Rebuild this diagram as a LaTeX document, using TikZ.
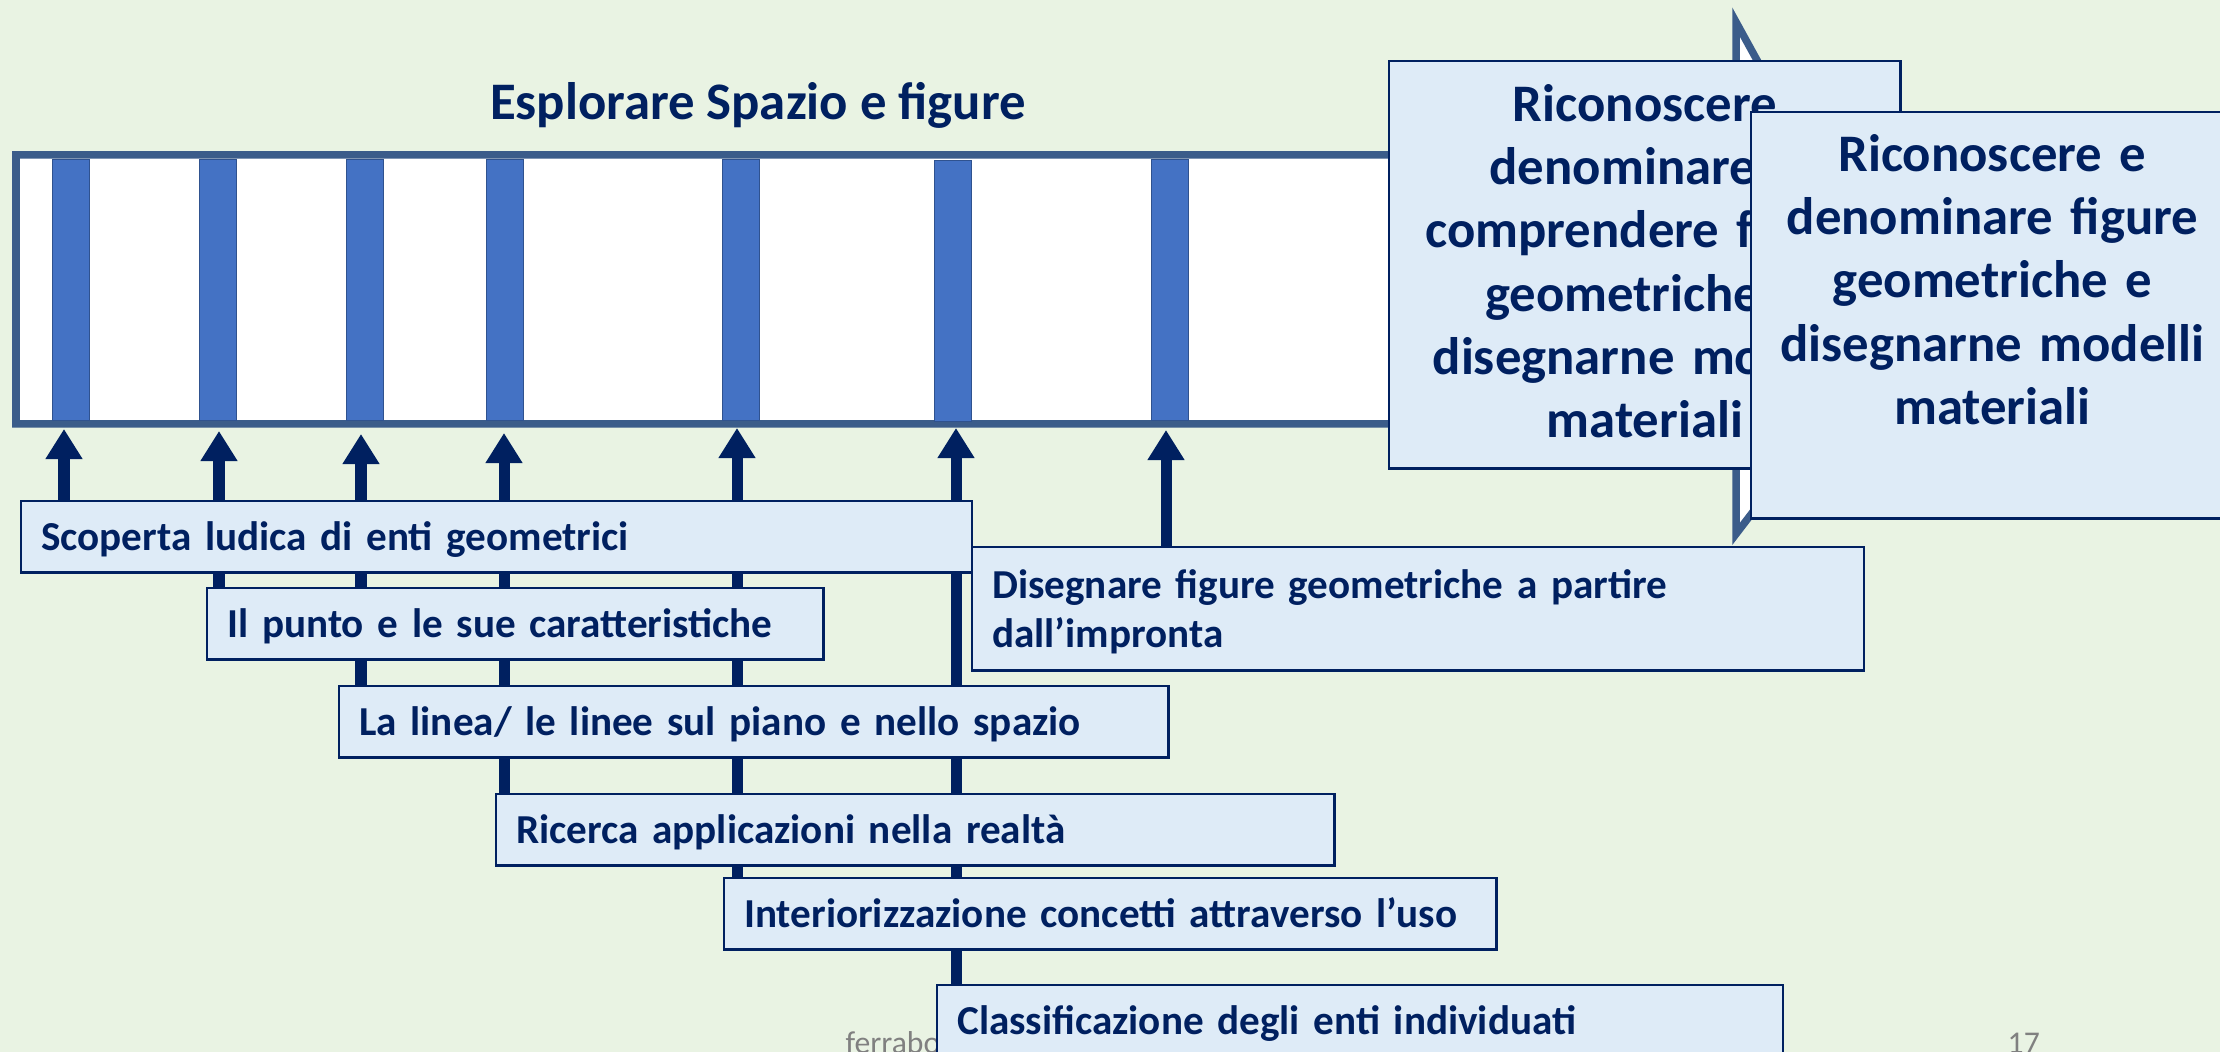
\documentclass[tikz,border=0pt]{standalone}
\usepackage{fontspec}
\setmainfont{Carlito}
\usepackage{tikz}
\usetikzlibrary{arrows.meta}

\definecolor{navy}{RGB}{0,32,96}
\definecolor{pagegreen}{RGB}{233,243,227}
\definecolor{boxblue}{RGB}{222,235,247}
\definecolor{shaftblue}{RGB}{59,92,138}
\definecolor{barblue}{RGB}{68,114,196}
\definecolor{barline}{RGB}{47,82,143}

\begin{document}
\begin{tikzpicture}[x=0.01cm, y=-0.01cm,
    stepbox/.style = {draw=navy, fill=boxblue, line width=0.7pt, text=navy, anchor=north west, inner xsep=0.2cm, inner ysep=0pt, align=left, font=\bfseries\fontsize{11.7}{13.9}\selectfont, text height=0.49cm, text depth=0.22cm},
    bigbox/.style = {draw=navy, fill=boxblue, line width=0.7pt, text=navy, anchor=north west, inner sep=0pt, align=center, font=\bfseries\fontsize{15}{18}\selectfont},
    bar/.style = {draw=barline, fill=barblue, line width=0.5pt, minimum width=0.37cm, minimum height=2.61cm, inner sep=0pt},
    uparrow/.style = {draw=navy, line width=0.11cm, -{Triangle[width=0.35cm, length=0.3cm]}},
    title/.style = {text=navy, anchor=base, font=\bfseries\fontsize{15}{18}\selectfont},
    foot/.style = {text=gray, anchor=base west, inner sep=0pt, font=\fontsize{9}{11}\selectfont}]
            \path[use as bounding box, fill=pagegreen] (0,0) rectangle (2220,1052);
            \clip (0,0) rectangle (2220,1052);

            \node[foot] (autore) at (845,1053) {ferrabo};
            \node[foot] (pagina) at (2007,1053) {17};

            \node[title] (esplora) at (758,120) {Esplorare Spazio e figure};

            \draw[shaftblue, line width=0.075cm, fill=white] (16,155) -- (1736,155) -- (1736,22) -- (1900,320) -- (1736,534) -- (1736,424) -- (16,424) -- cycle;

            \node[bar] (b1) at (71,290) {};
            \node[bar] (b2) at (218,290) {};
            \node[bar] (b3) at (365,290) {};
            \node[bar] (b4) at (505,290) {};
            \node[bar] (b5) at (741,290) {};
            \node[bar] (b6) at (953,291) {};
            \node[bar] (b7) at (1170,290) {};

            \coordinate (t1) at (64,429);
            \coordinate (t2) at (219,431);
            \coordinate (t3) at (361,434);
            \coordinate (t4) at (504,433);
            \coordinate (t5) at (737,428);
            \coordinate (t6) at (956,428);
            \coordinate (t7) at (1166,430);

            \node[stepbox, text width=8.05cm] (classif) at (936,984) {Classificazione degli enti individuati};
            \draw[uparrow] (classif.north -| t6) -- (t6);

            \node[stepbox, text width=7.32cm] (interio) at (723,877) {Interiorizzazione concetti attraverso l’uso};
            \draw[uparrow] (interio.north -| t5) -- (t5);

            \node[stepbox, text width=7.98cm] (ricerca) at (495,793) {Ricerca applicazioni nella realtà};
            \draw[uparrow] (ricerca.north -| t4) -- (t4);

            \node[stepbox, text width=7.89cm] (linea) at (338,685) {La linea/ le linee sul piano e nello spazio};
            \draw[uparrow] (linea.north -| t3) -- (t3);

            \node[stepbox, text width=5.76cm] (punto) at (206,587) {Il punto e le sue caratteristiche};
            \draw[uparrow] (punto.north -| t2) -- (t2);

            \node[stepbox, text width=9.10cm] (scop) at (20,500) {Scoperta ludica di enti geometrici};
            \draw[uparrow] (scop.north -| t1) -- (t1);

            \node[stepbox, text width=8.51cm, text height=0.51cm, text depth=0.72cm] (disegn) at (971,546) {Disegnare figure geometriche a partire\\dall’impronta};
            \draw[uparrow] (disegn.north -| t7) -- (t7);

            \node[bigbox, text width=5.11cm, text height=0.6cm, text depth=3.47cm] (ricA) at (1388,60) {Riconoscere\\denominare e\\comprendere figure\\geometriche e\\disegnarne modelli\\materiali};
            \node[bigbox, text width=4.82cm, text height=0.59cm, text depth=3.47cm] (ricB) at (1750,111) {Riconoscere e\\denominare figure\\geometriche e\\disegnarne modelli\\materiali};
        \end{tikzpicture}
\end{document}
